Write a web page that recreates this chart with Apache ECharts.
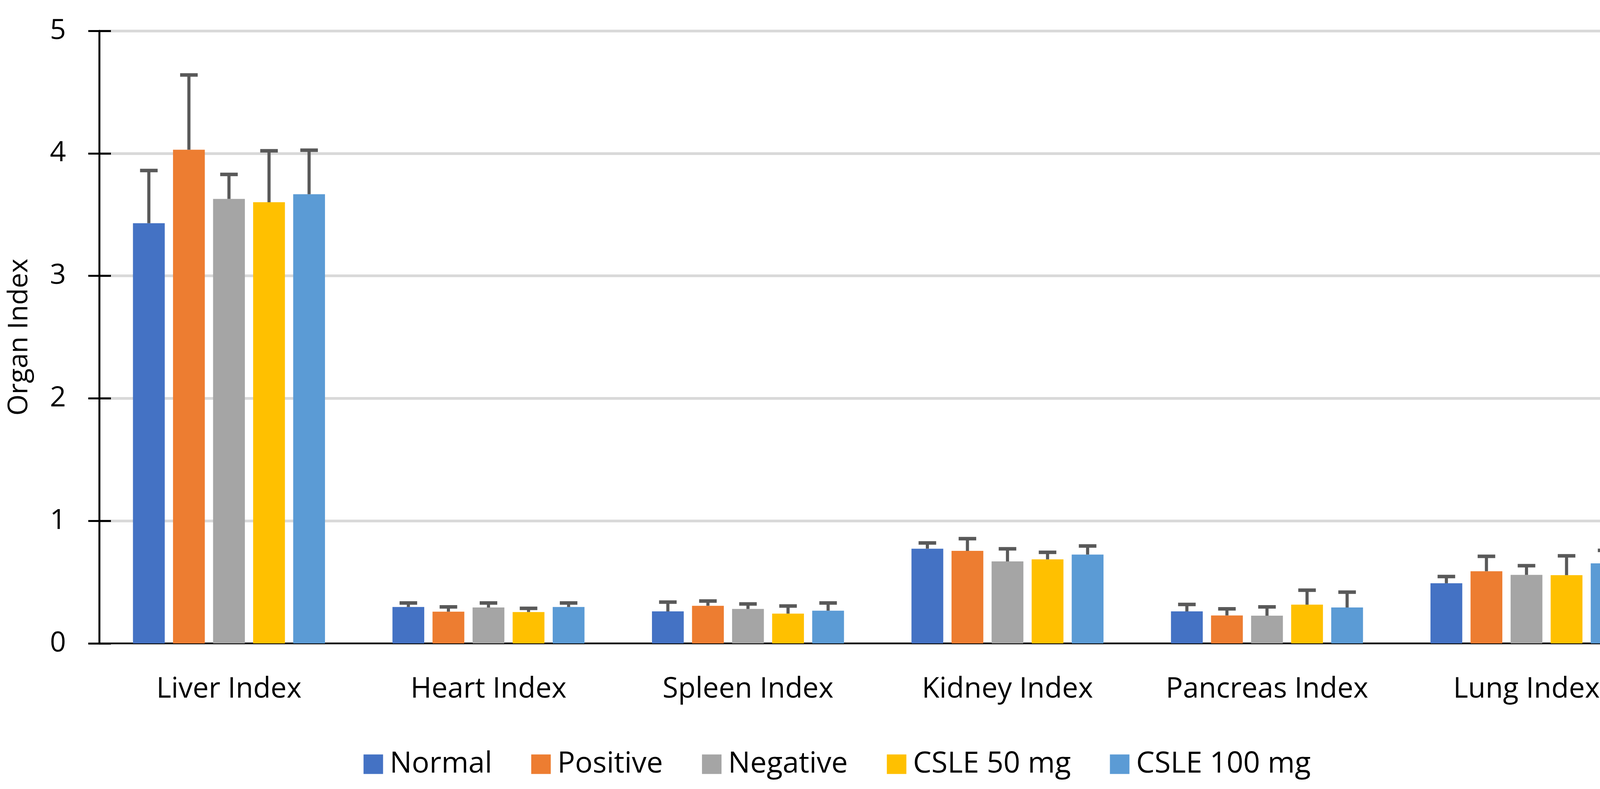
<!DOCTYPE html>
<html>
<head>
<meta charset="utf-8">
<script src="https://cdn.jsdelivr.net/npm/echarts@6/dist/echarts.min.js"></script>
<style>html,body{margin:0;padding:0;background:#fff}#c{width:4286px;height:2021px}</style>
</head>
<body>
<div id="c"></div>
<script>
const categories = ['Liver Index', 'Heart Index', 'Spleen Index', 'Kidney Index', 'Pancreas Index', 'Lung Index'];
const seriesNames = ['Normal', 'Positive', 'Negative', 'CSLE 50 mg', 'CSLE 100 mg'];
const colors = ['#4472C4', '#ED7D31', '#A5A5A5', '#FFC000', '#5B9BD5'];

const normal      = [3.43, 0.297, 0.261, 0.773, 0.261, 0.491];
const normalErr   = [0.43, 0.033, 0.076, 0.047, 0.057, 0.055];
const positive    = [4.03, 0.259, 0.307, 0.755, 0.228, 0.589];
const positiveErr = [0.61, 0.039, 0.039, 0.100, 0.054, 0.122];
const negative    = [3.628, 0.293, 0.281, 0.669, 0.226, 0.559];
const negativeErr = [0.20, 0.037, 0.041, 0.103, 0.072, 0.075];
const csle50      = [3.601, 0.256, 0.243, 0.686, 0.316, 0.557];
const csle50Err   = [0.42, 0.030, 0.062, 0.057, 0.118, 0.158];
const csle100     = [3.666, 0.297, 0.267, 0.725, 0.293, 0.653];
const csle100Err  = [0.36, 0.033, 0.063, 0.070, 0.125, 0.106];

const yTicks = [0, 1, 2, 3, 4, 5];

const values = [normal, positive, negative, csle50, csle100];
const errors = [normalErr, positiveErr, negativeErr, csle50Err, csle100Err];

const BAR_GAP = 0.26, CAT_GAP = 0.26, N = seriesNames.length;
const FONT = 'Open Sans';

const chart = echarts.init(document.getElementById('c'), null, {renderer: 'canvas'});

const barSeries = seriesNames.map((name, i) => ({
  name: name,
  type: 'bar',
  data: values[i],
  itemStyle: {color: colors[i]},
  barGap: (BAR_GAP * 100) + '%',
  barCategoryGap: (CAT_GAP * 100) + '%',
  z: 2
}));

const errSeries = seriesNames.map((name, i) => ({
  name: name + ' SD',
  type: 'custom',
  z: 5,
  silent: true,
  data: categories.map((c, k) => [k, values[i][k], errors[i][k]]),
  renderItem: function (params, api) {
    const idx = api.value(0), v = api.value(1), e = api.value(2);
    const band = api.size([1, 0])[0];
    const bw = band * (1 - CAT_GAP) / (N + (N - 1) * BAR_GAP);
    const pitch = bw * (1 + BAR_GAP);
    const cx = api.coord([idx, 0])[0] + (i - (N - 1) / 2) * pitch;
    const yTop = api.coord([idx, v])[1];
    const yEnd = api.coord([idx, v + e])[1];
    const stemW = 8, capW = 45, capH = 9;
    return {
      type: 'group',
      children: [
        {type: 'rect', shape: {x: cx - stemW / 2, y: yEnd, width: stemW, height: yTop - yEnd}, style: {fill: '#595959'}},
        {type: 'rect', shape: {x: cx - capW / 2, y: yEnd - capH / 2, width: capW, height: capH}, style: {fill: '#595959'}}
      ]
    };
  }
}));

chart.setOption({
  backgroundColor: '#ffffff',
  animation: false,
  textStyle: {fontFamily: FONT},
  grid: {left: 254, right: 46, top: 79, bottom: 373, containLabel: false, outerBoundsMode: 'none'},
  legend: {
    data: seriesNames,
    left: 'center',
    top: 1915,
    icon: 'rect',
    itemWidth: 50,
    itemHeight: 50,
    itemGap: 100,
    textStyle: {fontFamily: FONT, fontSize: 75, color: '#000', padding: [0, 0, 0, 12]}
  },
  xAxis: {
    type: 'category',
    data: categories,
    axisLine: {show: true, lineStyle: {color: '#000', width: 4}},
    axisTick: {show: false},
    axisLabel: {fontFamily: FONT, fontSize: 73, color: '#000', margin: 82, interval: 0},
    splitLine: {show: false}
  },
  yAxis: [{
    type: 'value',
    min: yTicks[0],
    max: yTicks[yTicks.length - 1],
    interval: 1,
    name: 'Organ Index',
    nameLocation: 'middle',
    nameRotate: 90,
    nameGap: 169,
    nameTextStyle: {fontFamily: FONT, fontSize: 70, color: '#000'},
    axisLine: {show: true, lineStyle: {color: '#000', width: 5}},
    axisTick: {show: true, length: 28, lineStyle: {color: '#000', width: 5}},
    axisLabel: {fontFamily: FONT, fontSize: 72, color: '#000', margin: 85},
    splitLine: {show: true, lineStyle: {color: '#D9D9D9', width: 7}}
  }, {
    type: 'value',
    min: yTicks[0],
    max: yTicks[yTicks.length - 1],
    interval: 1,
    position: 'left',
    axisLine: {show: false},
    axisTick: {show: true, inside: true, length: 30, lineStyle: {color: '#000', width: 5}},
    axisLabel: {show: false},
    splitLine: {show: false}
  }],
  series: barSeries.concat(errSeries)
});
</script>
</body>
</html>
